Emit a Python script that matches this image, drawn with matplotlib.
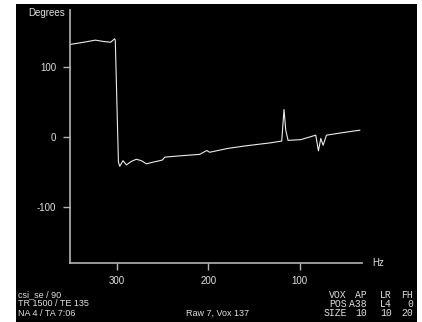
import matplotlib
matplotlib.use("Agg")
import matplotlib.pyplot as plt
from matplotlib.patches import Rectangle

# phase spectrum (Hz, degrees)
freq_hz = [350.3, 336, 323.3, 314, 306.6, 302.2, 301.5, 298.1, 296.7, 293.1,
           289.4, 284, 278.5, 273, 267.5, 260, 253, 250, 247.5, 230, 209.3,
           201.6, 198.4, 179, 160, 131.7, 119.7, 117.2, 115.3, 112.8, 98.9,
           82.5, 79.6, 77, 74.5, 70.8, 51.6, 34.4]
phase_deg = [132, 135, 138, 136, 135, 140, 137, -36, -42, -34,
             -40, -35, -32, -34, -38.5, -36, -34, -33, -29, -27, -25,
             -19.5, -22, -16.6, -13, -8.5, -6, 39, 9.5, -5, -4,
             2.4, -20, -2.3, -12, 2.4, 6.3, 9.5]

x_ticks = [300, 200, 100]
y_ticks = [100, 0, -100]

header_left = ["csi_se / 90", "TR 1500 / TE 135", "NA 4 / TA 7:06"]
footer_mid = "Raw 7, Vox 137"
vox_cols = [["VOX", "POS", "SIZE"],
            ["AP", "A38", "10"],
            ["LR", "L4", "10"],
            ["FH", "0", "20"]]

W, H = 422, 322
txt = "#e0e0e0"
axc = "#b4b4b4"

plt.rcParams['font.family'] = ['Liberation Sans', 'DejaVu Sans']
plt.rcParams['axes.unicode_minus'] = False
fig = plt.figure(figsize=(W / 100, H / 100), dpi=100, facecolor="white")

# black screen area
fig.patches.append(Rectangle((16 / W, 0), (417 - 16) / W, 1 - 4 / H,
                             transform=fig.transFigure, facecolor="black",
                             edgecolor="none", zorder=-10))

ax = fig.add_axes([70 / W, (H - 263) / H, (362 - 70) / W, (263 - 10) / H])
ax.patch.set_facecolor("black")
ax.plot(freq_hz, phase_deg, color="#ececec", lw=0.8)
ax.set_xlim(351, 32)
ax.set_ylim(-180, 181)
ax.set_xticks(x_ticks)
ax.set_yticks(y_ticks)
for s in ["top", "right"]:
    ax.spines[s].set_visible(False)
for s in ["left", "bottom"]:
    ax.spines[s].set_color(axc)
    ax.spines[s].set_linewidth(1.2)
ax.tick_params(colors=axc, labelcolor=txt, labelsize=7, length=5, width=1)
ax.tick_params(axis="x", pad=4.5)
ax.tick_params(axis="y", pad=5)

def px(x, y, s, **kw):
    kw.setdefault("color", txt)
    kw.setdefault("fontsize", 7)
    fig.text(x / W, 1 - y / H, s, **kw)

px(65, 13, "Degrees", ha="right", va="center")
px(372, 263, "Hz", ha="left", va="center")

rows_y = [294.5, 304, 313]
for s, yy in zip(header_left, rows_y):
    px(18, yy, s, ha="left", va="center", fontsize=6.5)
px(218, 313, footer_mid, ha="center", va="center", fontsize=6.5)

col_x = [347, 367, 392, 413]
for cx, col in zip(col_x, vox_cols):
    for s, yy in zip(col, rows_y):
        px(cx, yy, s, ha="right", va="center", family="Liberation Mono",
           fontsize=7)

fig.savefig("out.png", dpi=100, facecolor="white")
